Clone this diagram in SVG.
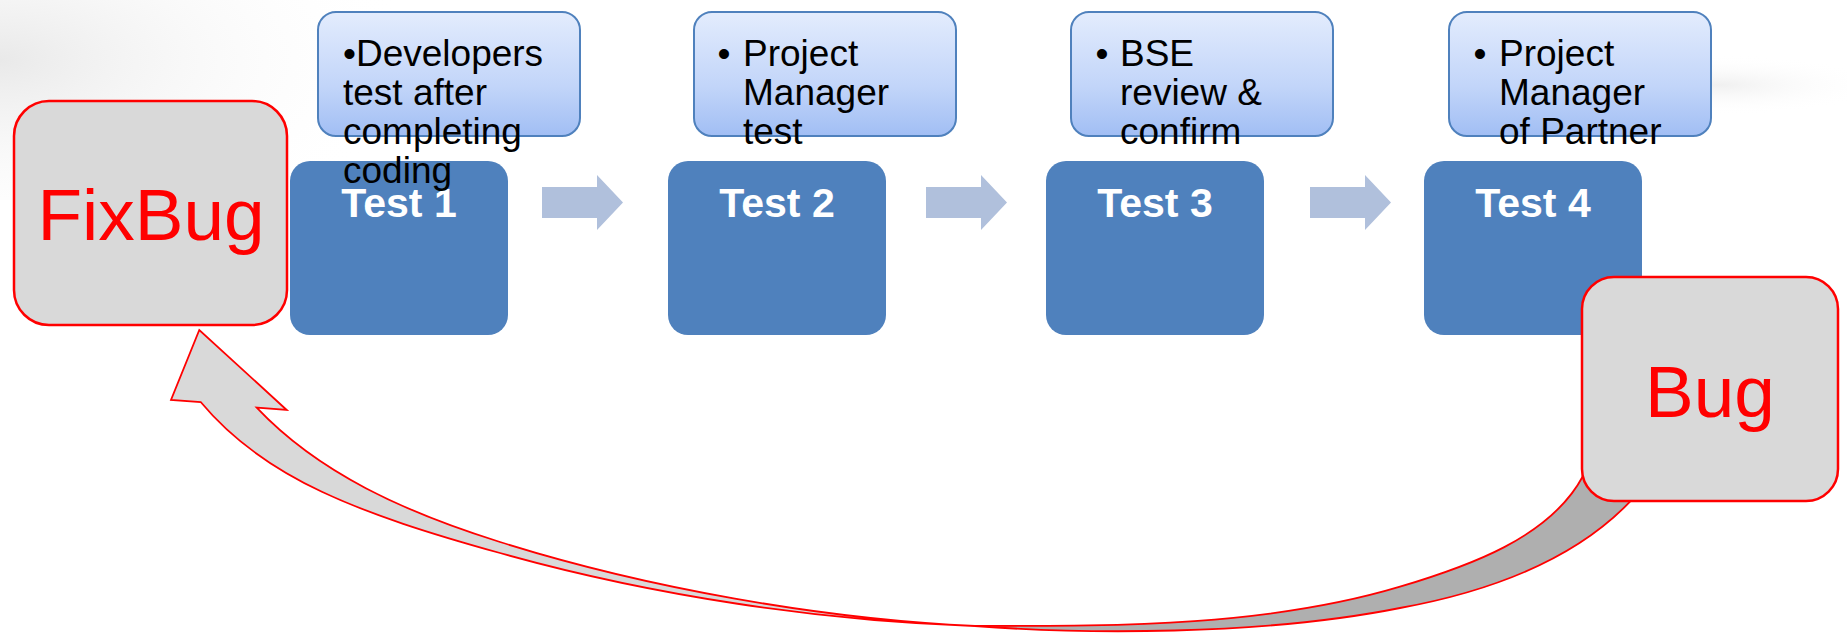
<svg xmlns="http://www.w3.org/2000/svg" width="1847" height="634" viewBox="0 0 1847 634">
  <defs>
    <linearGradient id="topFill" x1="0" y1="0" x2="0" y2="1">
      <stop offset="0" stop-color="#E3ECFD"/>
      <stop offset="0.6" stop-color="#C2D5F9"/>
      <stop offset="1" stop-color="#A1BEF4"/>
    </linearGradient>
    <radialGradient id="bgTL" cx="0" cy="0.3" r="1">
      <stop offset="0" stop-color="#E9E9E9"/>
      <stop offset="1" stop-color="#FFFFFF" stop-opacity="0"/>
    </radialGradient>
    <radialGradient id="bgR" cx="0.5" cy="0.5" r="0.5">
      <stop offset="0" stop-color="#F0F0F0"/>
      <stop offset="1" stop-color="#FFFFFF" stop-opacity="0"/>
    </radialGradient>
    <style>
      .test { fill: #4F81BD; }
      .testLabel { font-family: "Liberation Sans", Arial, sans-serif; font-weight: bold; font-size: 41px; fill: #FFFFFF; text-anchor: middle; }
      .note { fill: url(#topFill); stroke: #4F81BD; stroke-width: 2; }
      .noteText { font-family: "Liberation Sans", Arial, sans-serif; font-size: 37px; fill: #000000; }
      .bugBox { fill: #D9D9D9; stroke: #FF0000; stroke-width: 2.5; }
      .bugText { font-family: "Liberation Sans", Arial, sans-serif; font-size: 73px; fill: #FF0000; text-anchor: middle; }
      .chev { fill: #B0C0DC; }
      .band { stroke: #FF0000; stroke-width: 1.8; stroke-linejoin: miter; }
    </style>
  </defs>

  <rect width="1847" height="634" fill="#FFFFFF"/>
  <rect x="0" y="0" width="420" height="200" fill="url(#bgTL)"/>
  <ellipse cx="1720" cy="85" rx="160" ry="30" fill="url(#bgR)"/>

  <g id="connectors">
    <path class="chev" d="M542,187 H597 V175 L623,202.5 L597,230 V218 H542 Z"/>
    <path class="chev" d="M926,187 H981 V175 L1007,202.5 L981,230 V218 H926 Z"/>
    <path class="chev" d="M1310,187 H1365 V175 L1391,202.5 L1365,230 V218 H1310 Z"/>
    <path class="band" fill="#AFAFAF" d="M1583,476 C1550,538 1467,566.7 1400,586.7 C1266,626.9 1115,626 975,626 C1080,634 1260,636 1400,608 C1484,592.7 1571.3,562.9 1630,501.7 L1640,488 L1595,462 Z"/>
    <path class="band" fill="#D9D9D9" d="M975,626 C822,621 653,596 500,553 C360,514 264.7,479 200.7,402 L171,400 L199.3,330 L286.7,410 L256.7,407.7 C318.8,473.4 404.5,512 500,542 C646,588 822,619 975,626 Z"/>
  </g>

  <g id="test1">
    <rect class="test" x="290" y="161" width="218" height="174" rx="20"/>
    <text class="testLabel" x="399" y="217">Test 1</text>
  </g>
  <g id="test2">
    <rect class="test" x="668" y="161" width="218" height="174" rx="20"/>
    <text class="testLabel" x="777" y="217">Test 2</text>
  </g>
  <g id="test3">
    <rect class="test" x="1046" y="161" width="218" height="174" rx="20"/>
    <text class="testLabel" x="1155" y="217">Test 3</text>
  </g>
  <g id="test4">
    <rect class="test" x="1424" y="161" width="218" height="174" rx="20"/>
    <text class="testLabel" x="1533" y="217">Test 4</text>
  </g>

  <g id="note1">
    <rect class="note" x="318" y="12" width="262" height="124" rx="18"/>
    <text class="noteText" x="343" y="66">•Developers</text>
    <text class="noteText" x="343" y="105">test after</text>
    <text class="noteText" x="343" y="144">completing</text>
    <text class="noteText" x="343" y="183">coding</text>
  </g>
  <g id="note2">
    <rect class="note" x="694" y="12" width="262" height="124" rx="18"/>
    <text class="noteText" x="717.5" y="66">•</text>
    <text class="noteText" x="743" y="66">Project</text>
    <text class="noteText" x="743" y="105">Manager</text>
    <text class="noteText" x="743" y="144">test</text>
  </g>
  <g id="note3">
    <rect class="note" x="1071" y="12" width="262" height="124" rx="18"/>
    <text class="noteText" x="1095.5" y="66">•</text>
    <text class="noteText" x="1120" y="66">BSE</text>
    <text class="noteText" x="1120" y="105">review &amp;</text>
    <text class="noteText" x="1120" y="144">confirm</text>
  </g>
  <g id="note4">
    <rect class="note" x="1449" y="12" width="262" height="124" rx="18"/>
    <text class="noteText" x="1473.5" y="66">•</text>
    <text class="noteText" x="1499" y="66">Project</text>
    <text class="noteText" x="1499" y="105">Manager</text>
    <text class="noteText" x="1499" y="144">of Partner</text>
  </g>

  <g id="fixbug">
    <rect class="bugBox" x="14" y="101" width="273" height="224" rx="35"/>
    <text class="bugText" x="151" y="240">FixBug</text>
  </g>
  <g id="bug">
    <rect class="bugBox" x="1582" y="277" width="256" height="224" rx="32"/>
    <text class="bugText" x="1710" y="417">Bug</text>
  </g>
</svg>
